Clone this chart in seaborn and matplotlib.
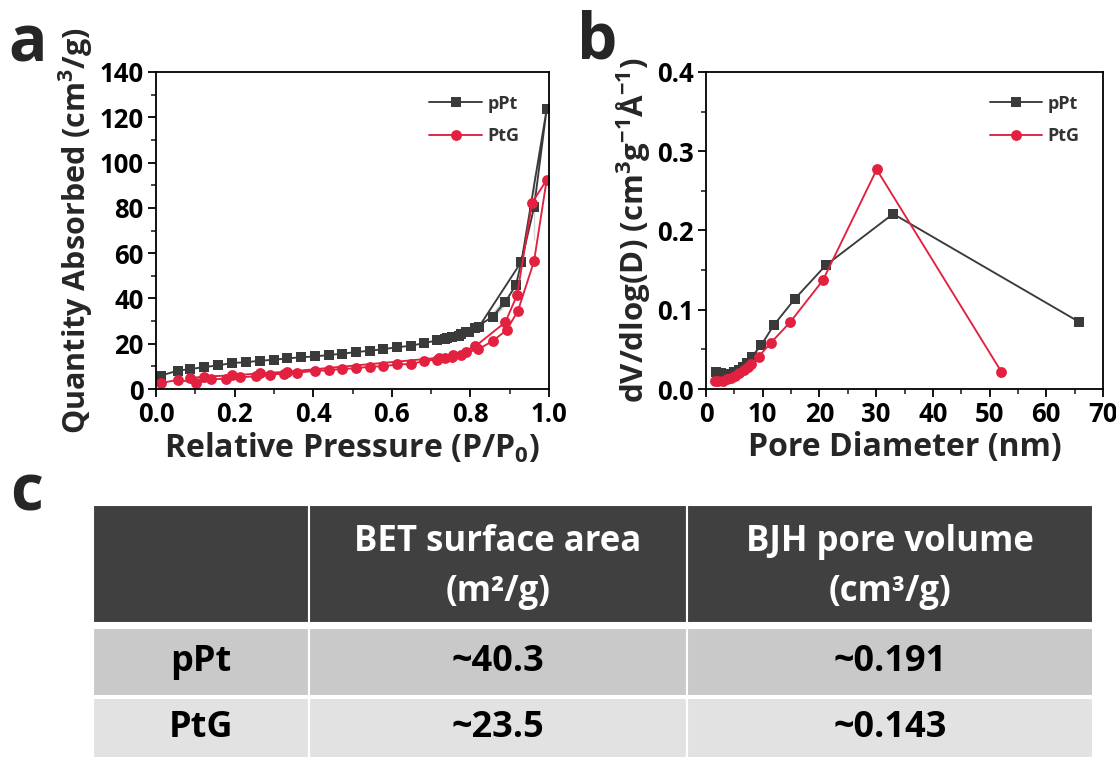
import numpy as np
import pandas as pd
import matplotlib
matplotlib.use("Agg")
import matplotlib.pyplot as plt
from matplotlib.patches import Rectangle
from matplotlib.ticker import MultipleLocator
import seaborn as sns

# ---------------- data ----------------
# N2 isotherms: adsorption branch (rising P) then desorption branch (falling P)
ppt_ads_p = [0.012, 0.055, 0.087, 0.123, 0.157, 0.194, 0.228, 0.265, 0.299, 0.333,
             0.369, 0.405, 0.439, 0.474, 0.508, 0.544, 0.578, 0.612, 0.648, 0.683,
             0.716, 0.735, 0.753, 0.775, 0.789, 0.812, 0.857, 0.889, 0.916, 0.962, 0.994]
ppt_ads_q = [5.9, 8.1, 8.8, 9.7, 10.4, 11.5, 11.8, 12.5, 12.9, 13.5,
             14.0, 14.4, 15.0, 15.6, 16.3, 16.9, 17.6, 18.4, 19.1, 20.3,
             21.4, 22.2, 22.8, 24.2, 25.0, 27.0, 31.0, 37.0, 46.0, 66.0, 123.5]
ppt_des_p = [0.962, 0.930, 0.889, 0.857, 0.822, 0.797, 0.770, 0.740, 0.716]
ppt_des_q = [94.5, 56.3, 40.0, 33.0, 27.5, 25.3, 23.6, 22.4, 21.6]

ptg_ads_p = [0.012, 0.057, 0.103, 0.141, 0.178, 0.215, 0.255, 0.290, 0.325, 0.360,
             0.405, 0.440, 0.474, 0.508, 0.544, 0.578, 0.612, 0.648, 0.683, 0.716,
             0.735, 0.753, 0.775, 0.789, 0.820, 0.857, 0.892, 0.921, 0.962, 0.994]
ptg_ads_q = [2.6, 4.1, 2.6, 4.2, 4.6, 5.2, 5.6, 6.3, 6.8, 7.2,
             7.8, 8.2, 8.7, 9.1, 9.6, 10.0, 10.5, 11.0, 12.0, 13.0,
             13.7, 14.2, 15.0, 15.8, 17.5, 20.5, 26.0, 34.5, 56.5, 92.3]
ptg_des_p = [0.957, 0.919, 0.889, 0.857, 0.812, 0.789, 0.755, 0.720, 0.683, 0.612,
             0.544, 0.474, 0.405, 0.333, 0.265, 0.194, 0.123, 0.087]
ptg_des_q = [82.3, 41.6, 29.5, 22.0, 18.8, 16.6, 14.8, 13.8, 12.8, 11.2,
             10.2, 9.2, 8.3, 7.6, 6.9, 6.0, 5.5, 4.8]

# BJH pore size distributions
ppt_d = [1.8, 2.7, 3.6, 4.3, 5.0, 5.75, 6.5, 7.3, 8.1, 9.7, 12.0, 15.7, 21.1, 33.0, 65.7]
ppt_dv = [0.021, 0.020, 0.019, 0.019, 0.021, 0.024, 0.028, 0.033, 0.041, 0.055,
          0.081, 0.114, 0.156, 0.221, 0.085]
ptg_d = [1.5, 2.2, 3.0, 3.7, 4.4, 5.2, 5.9, 6.7, 7.4, 8.0, 9.3, 11.4, 14.8, 20.6, 30.1, 52.1]
ptg_dv = [0.0097, 0.0097, 0.0105, 0.012, 0.014, 0.017, 0.020, 0.024, 0.028, 0.031,
          0.041, 0.058, 0.084, 0.137, 0.277, 0.0215]

# summary table
samples = ["pPt", "PtG"]
table_headers = ["BET surface area\n(m²/g)", "BJH pore volume\n(cm³/g)"]
bet_area = ["~40.3", "~23.5"]
bjh_volume = ["~0.191", "~0.143"]

# ---------------- style ----------------
sns.set_theme(style="ticks")
plt.rcParams["font.family"] = ["Open Sans", "DejaVu Sans"]
plt.rcParams["font.weight"] = "bold"
plt.rcParams["mathtext.fontset"] = "custom"
plt.rcParams["mathtext.rm"] = "Open Sans:bold"
plt.rcParams["mathtext.bf"] = "Open Sans:bold"
plt.rcParams["mathtext.it"] = "Open Sans:bold"
plt.rcParams["mathtext.default"] = "bf"

GREY = "#3a3a3a"
RED = "#e2203f"

fig = plt.figure(figsize=(11.16, 7.58), dpi=100)
W, H = 1116, 758


def px_axes(x0, y0, x1, y1):
    return fig.add_axes([x0 / W, 1 - y1 / H, (x1 - x0) / W, (y1 - y0) / H])


def style_axes(ax):
    for s in ax.spines.values():
        s.set_linewidth(1.3)
        s.set_color("black")
    ax.tick_params(which="major", direction="out", length=6, width=1.3,
                   labelsize=18.5, colors="black", top=False, right=False, pad=3)
    ax.tick_params(which="minor", direction="out", length=3.5, width=1.2,
                   top=False, right=False)
    for lab in ax.get_xticklabels() + ax.get_yticklabels():
        lab.set_fontweight("bold")


def add_legend(ax, anchor):
    leg = ax.legend(loc="upper right", bbox_to_anchor=anchor, frameon=False,
                    fontsize=13, handlelength=2.9, handletextpad=0.3,
                    borderaxespad=0.6, labelspacing=0.8)
    for t in leg.get_texts():
        t.set_fontweight("bold")
        t.set_color("#333333")


def branch_frame(ads_p, ads_q, des_p, des_q, x, y):
    return pd.DataFrame({x: list(ads_p) + list(des_p), y: list(ads_q) + list(des_q)})


LINE = dict(lw=1.35, markeredgewidth=0)
SQ = 7.0
CI = 7.8

# ---------------- panel a ----------------
axa = px_axes(156, 72, 549, 389)
dfa1 = branch_frame(ppt_ads_p, ppt_ads_q, ppt_des_p, ppt_des_q, "p", "q")
dfa2 = branch_frame(ptg_ads_p, ptg_ads_q, ptg_des_p, ptg_des_q, "p", "q")
sns.lineplot(data=dfa1, x="p", y="q", sort=False, ax=axa, color=GREY,
             marker="s", markersize=SQ, label="pPt", **LINE)
sns.lineplot(data=dfa2, x="p", y="q", sort=False, ax=axa, color=RED,
             marker="o", markersize=CI, label="PtG", **LINE)
axa.set_xlim(0, 1.0)
axa.set_ylim(0, 140)
axa.xaxis.set_major_locator(MultipleLocator(0.2))
axa.xaxis.set_minor_locator(MultipleLocator(0.1))
axa.yaxis.set_major_locator(MultipleLocator(20))
axa.yaxis.set_minor_locator(MultipleLocator(10))
axa.set_xticklabels([f"{v:.1f}" for v in axa.get_xticks()])
axa.set_xlabel("Relative Pressure (P/P$_0$)", fontsize=23, fontweight="bold", labelpad=2)
axa.set_ylabel("Quantity Absorbed (cm$^3$/g)", fontsize=22, fontweight="bold", labelpad=3)
style_axes(axa)
add_legend(axa, (0.97, 0.985))

# ---------------- panel b ----------------
axb = px_axes(706, 72, 1103, 389)
dfb1 = pd.DataFrame({"d": ppt_d, "v": ppt_dv})
dfb2 = pd.DataFrame({"d": ptg_d, "v": ptg_dv})
sns.lineplot(data=dfb1, x="d", y="v", sort=False, ax=axb, color=GREY,
             marker="s", markersize=SQ, label="pPt", **LINE)
sns.lineplot(data=dfb2, x="d", y="v", sort=False, ax=axb, color=RED,
             marker="o", markersize=CI, label="PtG", **LINE)
axb.set_xlim(0, 70)
axb.set_ylim(0, 0.4)
axb.xaxis.set_major_locator(MultipleLocator(10))
axb.xaxis.set_minor_locator(MultipleLocator(5))
axb.yaxis.set_major_locator(MultipleLocator(0.1))
axb.yaxis.set_minor_locator(MultipleLocator(0.05))
axb.set_yticklabels([f"{v:.1f}" for v in axb.get_yticks()])
axb.set_xlabel("Pore Diameter (nm)", fontsize=23, fontweight="bold", labelpad=2)
axb.set_ylabel("dV/dlog(D) (cm$^3$g$^{-1}$Å$^{-1}$)", fontsize=22.5, fontweight="bold", labelpad=3)
style_axes(axb)
add_legend(axb, (0.987, 0.985))

# ---------------- panel c: summary table ----------------
axt = px_axes(0, 470, W, H)
axt.set_xlim(0, W)
axt.set_ylim(H, 470)
axt.axis("off")

col_edges = [93, 309, 687, 1093]
row_edges = [(505, 623), (628, 696), (698, 758)]
row_colors = ["#404040", "#c9c9c9", "#e2e2e2"]
TABLE_FONT = ["Open Sans", "DejaVu Sans"]

cells = [[""] + table_headers]
for s, a, v in zip(samples, bet_area, bjh_volume):
    cells.append([s, a, v])

for r, (y0, y1) in enumerate(row_edges):
    for c in range(3):
        x0, x1 = col_edges[c], col_edges[c + 1]
        axt.add_patch(Rectangle((x0, y0), x1 - x0, y1 - y0, facecolor=row_colors[r],
                                edgecolor="white", lw=1.5))
        txt = cells[r][c]
        if txt:
            axt.text((x0 + x1) / 2, (y0 + y1) / 2 + (3 if r == 0 else 0), txt,
                     ha="center", va="center", family=TABLE_FONT, fontweight="bold",
                     fontsize=25 if r == 0 else 26,
                     color="white" if r == 0 else "black", linespacing=1.55)

# ---------------- panel letters ----------------
fig.text(28 / W, 1 - 45 / H, "a", fontsize=46, fontweight="bold", ha="center", va="center")
fig.text(597 / W, 1 - 42 / H, "b", fontsize=46, fontweight="bold", ha="center", va="center")
fig.text(27 / W, 1 - 494 / H, "c", fontsize=46, fontweight="bold", ha="center", va="center")

fig.savefig("out.png", dpi=100)
